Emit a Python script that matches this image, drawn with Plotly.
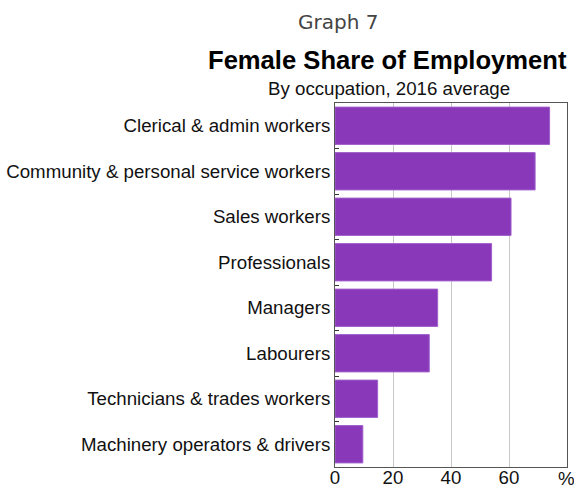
import plotly.graph_objects as go

# Female share of employment by occupation, 2016 average (%)
occupations = [
    "Clerical & admin workers",
    "Community & personal service workers",
    "Sales workers",
    "Professionals",
    "Managers",
    "Labourers",
    "Technicians & trades workers",
    "Machinery operators & drivers",
]
female_share = [74, 69, 60.7, 54, 35.4, 32.5, 14.7, 9.6]

x_ticks = [0, 20, 40, 60]
x_tick_labels = ["0", "20", "40", "60"]
x_max = 80
unit_label = "%"

fig = go.Figure(data=[
    go.Bar(
        x=female_share,
        y=occupations,
        orientation="h",
        marker=dict(color="#8838B8", line=dict(color="#A060CC", width=1)),
        width=0.82,
    )
])

fig.update_layout(
    width=574,
    height=488,
    margin=dict(l=335, r=7, t=103, b=21),
    paper_bgcolor="white",
    plot_bgcolor="white",
    showlegend=False,
    font=dict(family="Liberation Sans, Arial, sans-serif", size=18.7, color="#111"),
    annotations=[
        dict(text="Graph 7", x=0.013, y=1.222, xref="paper", yref="paper",
             showarrow=False, xanchor="center", yanchor="middle",
             font=dict(size=20, color="#444", family="DejaVu Sans, Verdana, sans-serif")),
        dict(text="<b>Female Share of Employment</b>", x=0.228, y=1.118,
             xref="paper", yref="paper", showarrow=False,
             xanchor="center", yanchor="middle",
             font=dict(size=25.6, color="#000")),
        dict(text="By occupation, 2016 average", x=0.233, y=1.041,
             xref="paper", yref="paper", showarrow=False,
             xanchor="center", yanchor="middle",
             font=dict(size=18.7, color="#111")),
        # unit label sits where the 80 tick would be
        dict(text=unit_label, x=x_max, y=0, xref="x", yref="paper",
             showarrow=False, xanchor="center", yanchor="middle",
             xshift=-1, yshift=-11, font=dict(size=18.7, color="#111")),
    ],
)

fig.update_xaxes(
    range=[0, x_max],
    tickvals=x_ticks,
    ticktext=x_tick_labels,
    showgrid=True,
    gridcolor="#C8C8C8",
    gridwidth=1,
    zeroline=False,
    showline=True,
    linecolor="#555",
    linewidth=1,
    mirror=True,
    ticks="",
    ticklabelstandoff=-6,
    automargin=False,
    tickfont=dict(size=18.7),
)

fig.update_yaxes(
    autorange="reversed",
    showgrid=False,
    showline=True,
    linecolor="#555",
    linewidth=1,
    mirror=True,
    ticks="inside",
    tickson="boundaries",
    ticklen=4,
    tickcolor="#333",
    automargin=False,
    tickfont=dict(size=18.7),
)

# drop the browser's default body margin so the figure fills the window
fig.write_html("out.html", config={"displayModeBar": False},
               post_script="document.body.style.margin='0';")
